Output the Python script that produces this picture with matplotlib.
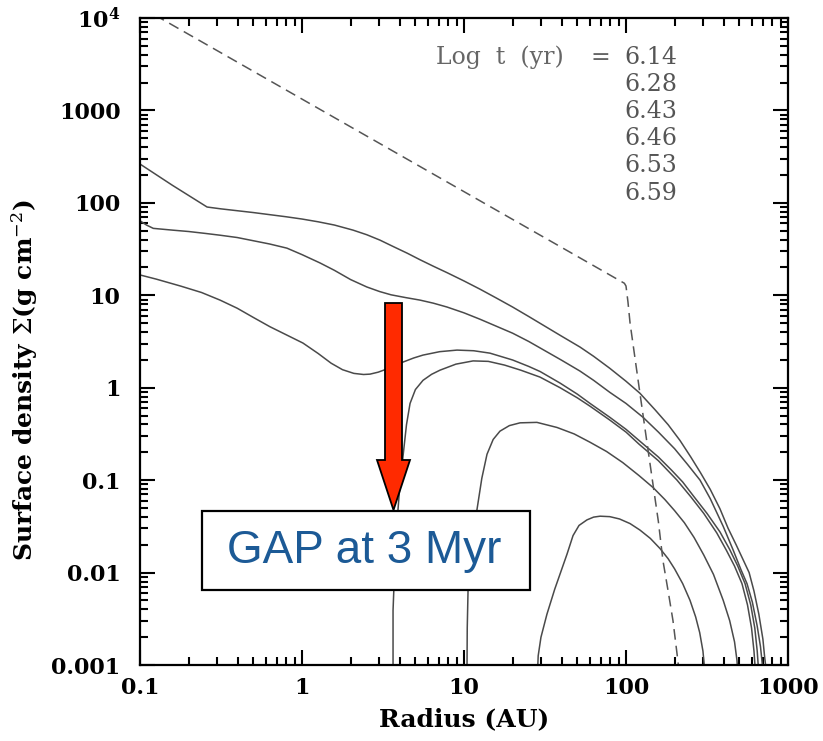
import matplotlib
matplotlib.use("Agg")
import matplotlib.pyplot as plt
import numpy as np
from matplotlib.patches import FancyArrow, Rectangle

logr_614 = [-1.0, -0.80, -0.586, -0.50, -0.40, -0.30, -0.198, -0.10, 0.0, 0.10, 0.20, 0.315,
            0.40, 0.481, 0.56, 0.65, 0.728, 0.81, 0.895, 1.0, 1.10, 1.20, 1.30, 1.40, 1.50,
            1.60, 1.716, 1.80, 1.90, 2.0, 2.086, 2.18, 2.26, 2.333, 2.40, 2.46, 2.52, 2.58,
            2.63, 2.68, 2.72, 2.76, 2.79, 2.82, 2.845, 2.855, 2.868]
logs_614 = [2.42, 2.19, 1.955, 1.935, 1.915, 1.895, 1.872, 1.85, 1.825, 1.795, 1.76, 1.705,
            1.655, 1.597, 1.53, 1.455, 1.385, 1.315, 1.245, 1.155, 1.065, 0.97, 0.873, 0.77,
            0.665, 0.56, 0.44, 0.34, 0.21, 0.07, -0.06, -0.24, -0.40, -0.57, -0.75, -0.92,
            -1.10, -1.31, -1.52, -1.70, -1.85, -2.0, -2.2, -2.45, -2.72, -2.9, -3.1]

logr_628 = [-1.0, -0.96, -0.918, -0.80, -0.70, -0.60, -0.506, -0.40, -0.30, -0.20, -0.093,
            0.0, 0.111, 0.20, 0.30, 0.40, 0.48, 0.55, 0.64, 0.728, 0.81, 0.895, 1.0, 1.10,
            1.20, 1.30, 1.40, 1.50, 1.60, 1.716, 1.80, 1.90, 2.0, 2.105, 2.20, 2.30, 2.38,
            2.457, 2.52, 2.60, 2.66, 2.71, 2.747, 2.78, 2.81, 2.83, 2.845]
logs_628 = [1.806, 1.76, 1.724, 1.705, 1.69, 1.67, 1.65, 1.625, 1.59, 1.555, 1.51,
            1.44, 1.35, 1.27, 1.17, 1.09, 1.04, 1.005, 0.975, 0.948, 0.915, 0.873, 0.81, 0.74,
            0.665, 0.59, 0.50, 0.40, 0.30, 0.18, 0.08, -0.05, -0.17, -0.32, -0.48, -0.66, -0.83,
            -1.0, -1.2, -1.50, -1.75, -1.97, -2.12, -2.32, -2.58, -2.8, -3.05]

logr_643 = [-1.0, -0.90, -0.75, -0.62, -0.506, -0.40, -0.30, -0.198, -0.10, 0.006, 0.10,
            0.18, 0.25, 0.32, 0.38, 0.42, 0.47, 0.52, 0.58, 0.623, 0.69, 0.747, 0.85, 0.957,
            1.06, 1.16, 1.30, 1.40, 1.47, 1.593, 1.70, 1.778, 1.90, 2.0, 2.10, 2.20, 2.28,
            2.35, 2.42, 2.50, 2.58, 2.64, 2.69, 2.735, 2.77, 2.795, 2.81, 2.82]
logs_643 = [1.22, 1.175, 1.10, 1.03, 0.948, 0.86, 0.76, 0.66, 0.575, 0.483, 0.37,
            0.265, 0.195, 0.155, 0.143, 0.147, 0.168, 0.20, 0.245, 0.277, 0.322, 0.353, 0.39,
            0.407, 0.40, 0.374, 0.30, 0.23, 0.175, 0.05, -0.07, -0.17, -0.32, -0.45, -0.60,
            -0.75, -0.89, -1.02, -1.18, -1.36, -1.56, -1.75, -1.93, -2.12, -2.35, -2.6, -2.85,
            -3.1]

logr_646 = [0.562, 0.562, 0.572, 0.586, 0.60, 0.623, 0.645, 0.667, 0.70, 0.747, 0.80, 0.852,
            0.95, 1.056, 1.15, 1.25, 1.35, 1.469, 1.593, 1.70, 1.778, 1.90, 2.0, 2.08, 2.20,
            2.315, 2.40, 2.48, 2.56, 2.62, 2.67, 2.716, 2.75, 2.775, 2.79, 2.80]
logs_646 = [-3.2, -2.41, -1.95, -1.47, -1.15, -0.75, -0.40, -0.17, -0.02, 0.08, 0.145, 0.19,
            0.255, 0.29, 0.285, 0.245, 0.19, 0.115, 0.0, -0.11, -0.20, -0.35, -0.48, -0.61,
            -0.79, -1.0, -1.18, -1.36, -1.57, -1.76, -1.93, -2.12, -2.35, -2.6, -2.85, -3.1]

logr_653 = [1.018, 1.02, 1.025, 1.04, 1.06, 1.08, 1.11, 1.142, 1.18, 1.222, 1.28, 1.346,
            1.45, 1.574, 1.68, 1.778, 1.88, 1.98, 2.08, 2.167, 2.24, 2.30, 2.36, 2.42, 2.48,
            2.54, 2.60, 2.64, 2.67, 2.685, 2.693]
logs_653 = [-3.2, -2.6, -2.19, -1.85, -1.55, -1.32, -0.98, -0.72, -0.56, -0.47, -0.41, -0.38,
            -0.375, -0.43, -0.50, -0.59, -0.69, -0.81, -0.95, -1.08, -1.21, -1.33, -1.46,
            -1.62, -1.81, -2.02, -2.3, -2.52, -2.75, -2.95, -3.15]

logr_659 = [1.451, 1.458, 1.475, 1.512, 1.56, 1.60, 1.636, 1.673, 1.71, 1.759, 1.80, 1.84,
            1.90, 1.96, 2.025, 2.086, 2.15, 2.21, 2.26, 2.30, 2.35, 2.395, 2.43, 2.455, 2.475,
            2.488]
logs_659 = [-3.2, -2.9, -2.7, -2.45, -2.18, -1.98, -1.80, -1.6, -1.49, -1.43, -1.40, -1.39,
            -1.395, -1.42, -1.47, -1.54, -1.63, -1.74, -1.85, -1.96, -2.12, -2.30, -2.48,
            -2.65, -2.85, -3.1]

logr_init = [-1.0, 1.99, 2.0, 2.012, 2.025, 2.086, 2.13, 2.167, 2.20, 2.228, 2.26, 2.29, 2.32,
             2.335]
logs_init = [4.124, 1.13, 1.10, 0.93, 0.70, -0.06, -0.60, -1.05, -1.45, -1.87, -2.20, -2.52,
             -2.95, -3.2]

log_times = ["6.14", "6.28", "6.43", "6.46", "6.53", "6.59"]
ytick_vals = [1e-3, 1e-2, 1e-1, 1, 10, 100, 1000, 1e4]
ytick_labels = ["0.001", "0.01", "0.1", "1", "10", "100", "1000", r"$\mathregular{10^4}$"]
xtick_vals = [0.1, 1, 10, 100, 1000]
xtick_labels = ["0.1", "1", "10", "100", "1000"]

plt.rcParams["font.family"] = ["DejaVu Serif"]
plt.rcParams["mathtext.fontset"] = "dejavuserif"

fig = plt.figure(figsize=(8.23, 7.41), dpi=100)
ax = fig.add_axes([140 / 823, 76 / 741, 648 / 823, 647 / 741])

curves = [(logr_614, logs_614), (logr_628, logs_628), (logr_643, logs_643),
          (logr_646, logs_646), (logr_653, logs_653), (logr_659, logs_659)]
for lr, ls in curves:
    ax.plot(10 ** np.array(lr), 10 ** np.array(ls), color="#4a4a4a", lw=1.1)
ax.plot(10 ** np.array(logr_init), 10 ** np.array(logs_init), color="#555555",
        lw=1.1, dashes=(7, 4))

ax.set_xscale("log")
ax.set_yscale("log")
ax.set_xlim(0.1, 1000)
ax.set_ylim(1e-3, 1e4)
ax.set_xticks(xtick_vals)
ax.set_xticklabels(xtick_labels)
ax.set_yticks(ytick_vals)
ax.set_yticklabels(ytick_labels)
ax.tick_params(which="both", direction="in", top=True, right=True, width=1.5)
ax.tick_params(which="major", length=11, labelsize=16)
ax.tick_params(axis="y", which="major", pad=14)
ax.tick_params(axis="x", which="major", pad=9)
ax.tick_params(which="minor", length=6)
for lab in ax.get_xticklabels() + ax.get_yticklabels():
    lab.set_fontweight("bold")
for sp in ax.spines.values():
    sp.set_linewidth(1.6)

ax.set_xlabel("Radius (AU)", fontsize=18, fontweight="bold")
ax.set_ylabel(r"Surface density $\Sigma$(g cm$^{-2}$)", fontsize=18, fontweight="bold")
ax.xaxis.set_label_coords(0.5, -0.066)
ax.yaxis.set_label_coords(-0.155, 0.44)

# legend of times
ax.text((436 - 140) / 648, (665 - 57) / 647, "Log  t  (yr)", transform=ax.transAxes,
        ha="left", va="center", fontsize=17, color="#666666")
ax.text((600 - 140) / 648, (665 - 57) / 647, "=", transform=ax.transAxes,
        ha="center", va="center", fontsize=17, color="#666666")
for i, t in enumerate(log_times):
    ax.text((624 - 140) / 648, (665 - 57 - 27.2 * i) / 647, t, transform=ax.transAxes,
            ha="left", va="center", fontsize=17, color="#555555")

# annotation: red arrow + boxed label
arrow = FancyArrow(3.935, (741 - 303) / 100, 0, -(510 - 303) / 100, width=0.17,
                   head_width=0.33, head_length=0.50, length_includes_head=True,
                   facecolor="#ff2a00", edgecolor="black", lw=1.3,
                   transform=fig.dpi_scale_trans, zorder=5)
fig.patches.append(arrow)
box = Rectangle((2.02, (741 - 590) / 100), 3.28, 0.79, facecolor="white",
                edgecolor="black", lw=1.6, transform=fig.dpi_scale_trans, zorder=5)
fig.patches.append(box)
fig.text(3.64 / 8.23, (741 - 551) / 741, "GAP at 3 Myr", ha="center", va="center",
         fontsize=33, color="#1c5a96", family="Liberation Sans", zorder=6)

fig.savefig("out.png", dpi=100)
